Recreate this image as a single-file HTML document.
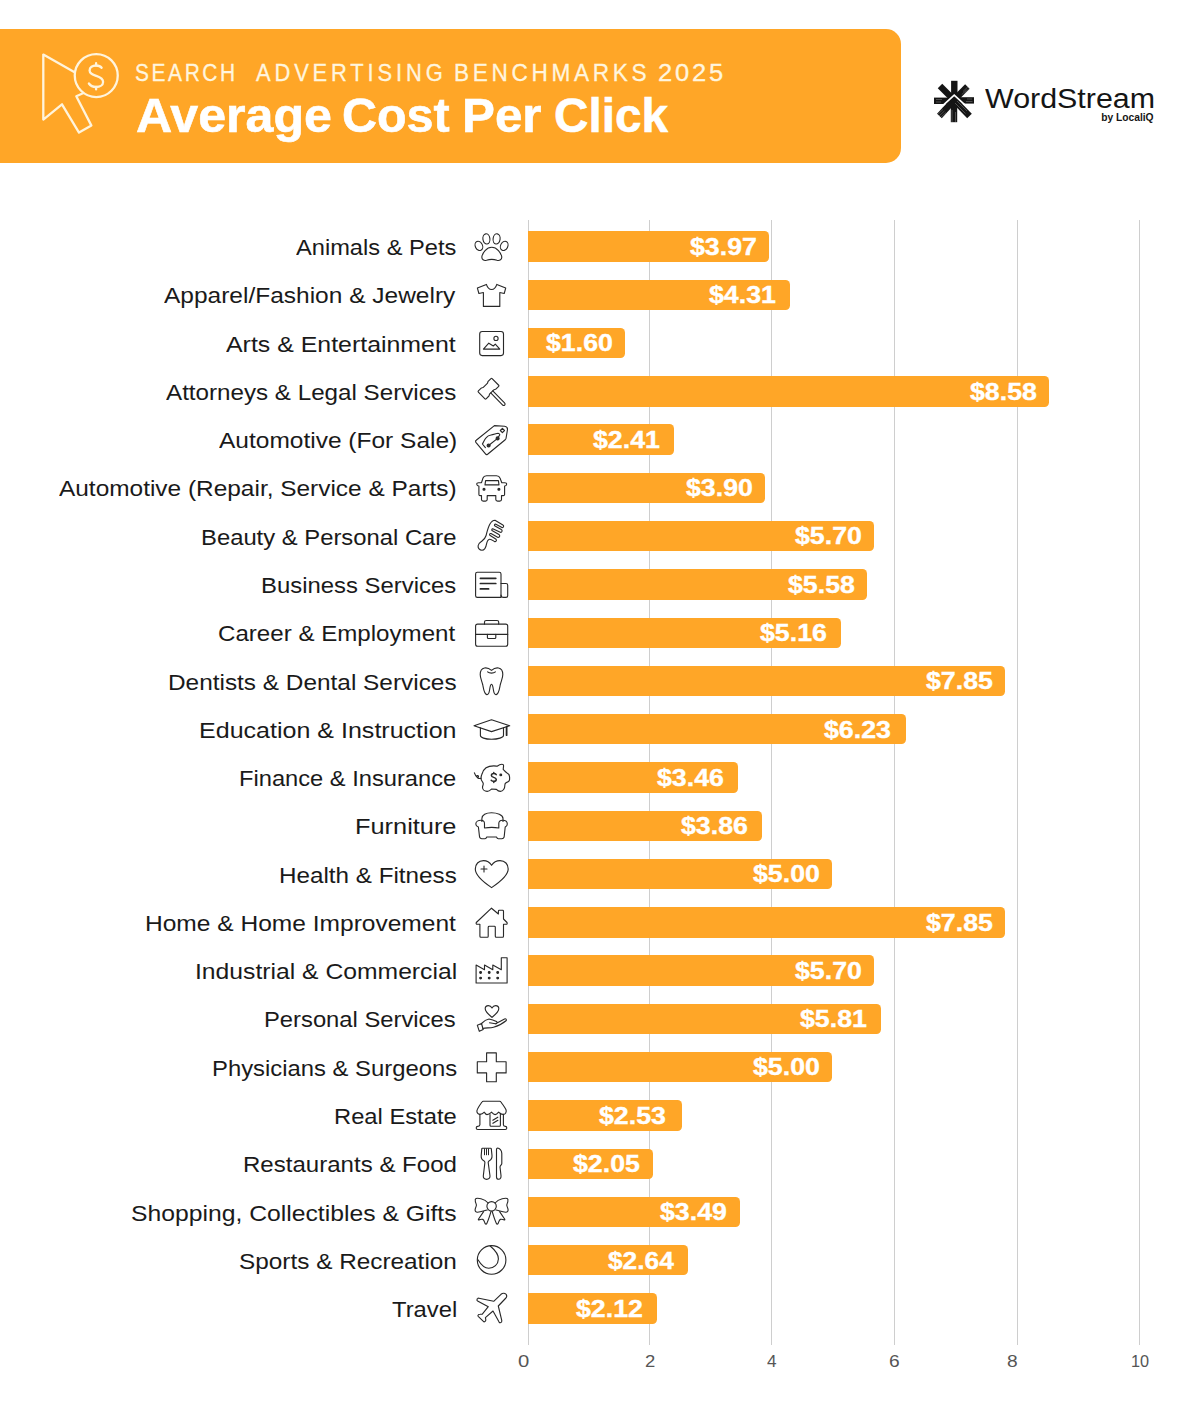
<!DOCTYPE html><html><head><meta charset="utf-8"><style>
html,body{margin:0;padding:0;background:#fff;width:1200px;height:1411px;overflow:hidden;position:relative}
.t{position:absolute;white-space:nowrap;line-height:1;font-family:"Liberation Sans",sans-serif}
.bar{position:absolute;left:528.0px;height:30.4px;background:#FFA627;border-radius:0 4.5px 4.5px 0}
.grid{position:absolute;top:220px;height:1125px;width:1px;background:#cecece}
</style></head><body>

<div style="position:absolute;left:0;top:29px;width:901px;height:134px;background:#FFA627;border-radius:0 15px 15px 0"></div>
<div class="t" style="left:135.14px;top:60.63px;font-size:24.3px;font-weight:400;color:#FFF5DE;letter-spacing:3.037px;transform-origin:0 0;transform:scaleX(0.8600);-webkit-text-stroke:0.35px #FFF5DE">SEARCH</div>
<div class="t" style="left:256.00px;top:60.63px;font-size:24.3px;font-weight:400;color:#FFF5DE;letter-spacing:4.311px;transform-origin:0 0;transform:scaleX(0.9000);-webkit-text-stroke:0.35px #FFF5DE">ADVERTISING</div>
<div class="t" style="left:453.94px;top:60.63px;font-size:24.3px;font-weight:400;color:#FFF5DE;letter-spacing:3.946px;transform-origin:0 0;transform:scaleX(0.9300);-webkit-text-stroke:0.35px #FFF5DE">BENCHMARKS</div>
<div class="t" style="left:657.75px;top:60.63px;font-size:24.3px;font-weight:400;color:#FFF5DE;letter-spacing:2.667px;transform-origin:0 0;transform:scaleX(1.0500);-webkit-text-stroke:0.35px #FFF5DE">2025</div>
<div class="t" style="left:136.06px;top:91.67px;font-size:48px;font-weight:700;color:#ffffff;transform-origin:0 0;transform:scaleX(1.0443);-webkit-text-stroke:0.6px #fff">Average</div>
<div class="t" style="left:342.18px;top:91.67px;font-size:48px;font-weight:700;color:#ffffff;transform-origin:0 0;transform:scaleX(1.0096);-webkit-text-stroke:0.6px #fff">Cost</div>
<div class="t" style="left:462.02px;top:91.67px;font-size:48px;font-weight:700;color:#ffffff;transform-origin:0 0;transform:scaleX(1.0270);-webkit-text-stroke:0.6px #fff">Per</div>
<div class="t" style="left:554.21px;top:91.67px;font-size:48px;font-weight:700;color:#ffffff;transform-origin:0 0;transform:scaleX(0.9929);-webkit-text-stroke:0.6px #fff">Click</div>
<div class="t" style="left:985.20px;top:85.35px;font-size:27.7px;font-weight:400;color:#151515;transform-origin:0 0;transform:scaleX(1.0980);">WordStream</div>
<div class="t" style="left:1101.20px;top:112.92px;font-size:10.25px;font-weight:700;color:#151515;transform-origin:0 0;transform:scaleX(1.0000);">by LocaliQ</div>
<div class="grid" style="left:527.50px"></div>
<div class="grid" style="left:649.00px"></div>
<div class="grid" style="left:770.80px"></div>
<div class="grid" style="left:894.00px"></div>
<div class="grid" style="left:1017.00px"></div>
<div class="grid" style="left:1139.10px"></div>
<div class="t" style="left:518.30px;top:1354.19px;font-size:15.6px;font-weight:400;color:#555555;transform-origin:0 0;transform:scaleX(1.3000);">0</div>
<div class="t" style="left:644.81px;top:1354.19px;font-size:15.6px;font-weight:400;color:#555555;transform-origin:0 0;transform:scaleX(1.1857);">2</div>
<div class="t" style="left:766.90px;top:1354.19px;font-size:15.6px;font-weight:400;color:#555555;transform-origin:0 0;transform:scaleX(1.1000);">4</div>
<div class="t" style="left:889.47px;top:1354.19px;font-size:15.6px;font-weight:400;color:#555555;transform-origin:0 0;transform:scaleX(1.2286);">6</div>
<div class="t" style="left:1007.47px;top:1354.19px;font-size:15.6px;font-weight:400;color:#555555;transform-origin:0 0;transform:scaleX(1.2286);">8</div>
<div class="t" style="left:1131.26px;top:1354.19px;font-size:15.6px;font-weight:400;color:#555555;transform-origin:0 0;transform:scaleX(1.0438);">10</div>
<div class="bar" style="top:231.40px;width:241.10px"></div>
<div class="t" style="left:689.55px;top:234.84px;font-size:24.3px;font-weight:700;color:#ffffff;transform-origin:0 0;transform:scaleX(1.1000);-webkit-text-stroke:0.4px #fff">$3.97</div>
<div class="t" style="left:296.40px;top:236.12px;font-size:22.85px;font-weight:400;color:#1a1a1a;transform-origin:0 0;transform:scaleX(1.0351);">Animals &amp; Pets</div>
<div class="bar" style="top:279.67px;width:261.75px"></div>
<div class="t" style="left:708.85px;top:283.11px;font-size:24.3px;font-weight:700;color:#ffffff;transform-origin:0 0;transform:scaleX(1.1000);-webkit-text-stroke:0.4px #fff">$4.31</div>
<div class="t" style="left:164.20px;top:284.39px;font-size:22.85px;font-weight:400;color:#1a1a1a;transform-origin:0 0;transform:scaleX(1.0721);">Apparel/Fashion &amp; Jewelry</div>
<div class="bar" style="top:327.94px;width:97.17px"></div>
<div class="t" style="left:546.17px;top:331.38px;font-size:24.3px;font-weight:700;color:#ffffff;transform-origin:0 0;transform:scaleX(1.1000);-webkit-text-stroke:0.4px #fff">$1.60</div>
<div class="t" style="left:225.80px;top:332.66px;font-size:22.85px;font-weight:400;color:#1a1a1a;transform-origin:0 0;transform:scaleX(1.0900);">Arts &amp; Entertainment</div>
<div class="bar" style="top:376.21px;width:521.06px"></div>
<div class="t" style="left:969.96px;top:379.65px;font-size:24.3px;font-weight:700;color:#ffffff;transform-origin:0 0;transform:scaleX(1.1000);-webkit-text-stroke:0.4px #fff">$8.58</div>
<div class="t" style="left:165.80px;top:380.93px;font-size:22.85px;font-weight:400;color:#1a1a1a;transform-origin:0 0;transform:scaleX(1.0584);">Attorneys &amp; Legal Services</div>
<div class="bar" style="top:424.48px;width:146.36px"></div>
<div class="t" style="left:593.46px;top:427.92px;font-size:24.3px;font-weight:700;color:#ffffff;transform-origin:0 0;transform:scaleX(1.1000);-webkit-text-stroke:0.4px #fff">$2.41</div>
<div class="t" style="left:218.80px;top:429.20px;font-size:22.85px;font-weight:400;color:#1a1a1a;transform-origin:0 0;transform:scaleX(1.0724);">Automotive (For Sale)</div>
<div class="bar" style="top:472.75px;width:236.85px"></div>
<div class="t" style="left:685.85px;top:476.19px;font-size:24.3px;font-weight:700;color:#ffffff;transform-origin:0 0;transform:scaleX(1.1000);-webkit-text-stroke:0.4px #fff">$3.90</div>
<div class="t" style="left:59.20px;top:477.47px;font-size:22.85px;font-weight:400;color:#1a1a1a;transform-origin:0 0;transform:scaleX(1.0690);">Automotive (Repair, Service &amp; Parts)</div>
<div class="bar" style="top:521.02px;width:346.16px"></div>
<div class="t" style="left:795.16px;top:524.46px;font-size:24.3px;font-weight:700;color:#ffffff;transform-origin:0 0;transform:scaleX(1.1000);-webkit-text-stroke:0.4px #fff">$5.70</div>
<div class="t" style="left:201.41px;top:525.74px;font-size:22.85px;font-weight:400;color:#1a1a1a;transform-origin:0 0;transform:scaleX(1.0426);">Beauty &amp; Personal Care</div>
<div class="bar" style="top:569.29px;width:338.87px"></div>
<div class="t" style="left:787.77px;top:572.73px;font-size:24.3px;font-weight:700;color:#ffffff;transform-origin:0 0;transform:scaleX(1.1000);-webkit-text-stroke:0.4px #fff">$5.58</div>
<div class="t" style="left:261.31px;top:574.01px;font-size:22.85px;font-weight:400;color:#1a1a1a;transform-origin:0 0;transform:scaleX(1.0457);">Business Services</div>
<div class="bar" style="top:617.56px;width:313.37px"></div>
<div class="t" style="left:760.27px;top:621.00px;font-size:24.3px;font-weight:700;color:#ffffff;transform-origin:0 0;transform:scaleX(1.1000);-webkit-text-stroke:0.4px #fff">$5.16</div>
<div class="t" style="left:218.34px;top:622.28px;font-size:22.85px;font-weight:400;color:#1a1a1a;transform-origin:0 0;transform:scaleX(1.0554);">Career &amp; Employment</div>
<div class="bar" style="top:665.83px;width:476.73px"></div>
<div class="t" style="left:925.63px;top:669.27px;font-size:24.3px;font-weight:700;color:#ffffff;transform-origin:0 0;transform:scaleX(1.1000);-webkit-text-stroke:0.4px #fff">$7.85</div>
<div class="t" style="left:167.67px;top:670.55px;font-size:22.85px;font-weight:400;color:#1a1a1a;transform-origin:0 0;transform:scaleX(1.0672);">Dentists &amp; Dental Services</div>
<div class="bar" style="top:714.10px;width:378.35px"></div>
<div class="t" style="left:823.95px;top:717.54px;font-size:24.3px;font-weight:700;color:#ffffff;transform-origin:0 0;transform:scaleX(1.1000);-webkit-text-stroke:0.4px #fff">$6.23</div>
<div class="t" style="left:199.31px;top:718.82px;font-size:22.85px;font-weight:400;color:#1a1a1a;transform-origin:0 0;transform:scaleX(1.0961);">Education &amp; Instruction</div>
<div class="bar" style="top:762.37px;width:210.13px"></div>
<div class="t" style="left:657.03px;top:765.81px;font-size:24.3px;font-weight:700;color:#ffffff;transform-origin:0 0;transform:scaleX(1.1000);-webkit-text-stroke:0.4px #fff">$3.46</div>
<div class="t" style="left:239.13px;top:767.09px;font-size:22.85px;font-weight:400;color:#1a1a1a;transform-origin:0 0;transform:scaleX(1.0367);">Finance &amp; Insurance</div>
<div class="bar" style="top:810.64px;width:234.42px"></div>
<div class="t" style="left:681.32px;top:814.08px;font-size:24.3px;font-weight:700;color:#ffffff;transform-origin:0 0;transform:scaleX(1.1000);-webkit-text-stroke:0.4px #fff">$3.86</div>
<div class="t" style="left:354.78px;top:815.36px;font-size:22.85px;font-weight:400;color:#1a1a1a;transform-origin:0 0;transform:scaleX(1.1101);">Furniture</div>
<div class="bar" style="top:858.91px;width:303.65px"></div>
<div class="t" style="left:752.65px;top:862.35px;font-size:24.3px;font-weight:700;color:#ffffff;transform-origin:0 0;transform:scaleX(1.1000);-webkit-text-stroke:0.4px #fff">$5.00</div>
<div class="t" style="left:278.68px;top:863.63px;font-size:22.85px;font-weight:400;color:#1a1a1a;transform-origin:0 0;transform:scaleX(1.0606);">Health &amp; Fitness</div>
<div class="bar" style="top:907.18px;width:476.73px"></div>
<div class="t" style="left:925.63px;top:910.62px;font-size:24.3px;font-weight:700;color:#ffffff;transform-origin:0 0;transform:scaleX(1.1000);-webkit-text-stroke:0.4px #fff">$7.85</div>
<div class="t" style="left:145.35px;top:911.90px;font-size:22.85px;font-weight:400;color:#1a1a1a;transform-origin:0 0;transform:scaleX(1.0742);">Home &amp; Home Improvement</div>
<div class="bar" style="top:955.45px;width:346.16px"></div>
<div class="t" style="left:795.16px;top:958.89px;font-size:24.3px;font-weight:700;color:#ffffff;transform-origin:0 0;transform:scaleX(1.1000);-webkit-text-stroke:0.4px #fff">$5.70</div>
<div class="t" style="left:195.24px;top:960.17px;font-size:22.85px;font-weight:400;color:#1a1a1a;transform-origin:0 0;transform:scaleX(1.0812);">Industrial &amp; Commercial</div>
<div class="bar" style="top:1003.72px;width:352.84px"></div>
<div class="t" style="left:799.94px;top:1007.16px;font-size:24.3px;font-weight:700;color:#ffffff;transform-origin:0 0;transform:scaleX(1.1000);-webkit-text-stroke:0.4px #fff">$5.81</div>
<div class="t" style="left:264.32px;top:1008.44px;font-size:22.85px;font-weight:400;color:#1a1a1a;transform-origin:0 0;transform:scaleX(1.0407);">Personal Services</div>
<div class="bar" style="top:1051.99px;width:303.65px"></div>
<div class="t" style="left:752.65px;top:1055.43px;font-size:24.3px;font-weight:700;color:#ffffff;transform-origin:0 0;transform:scaleX(1.1000);-webkit-text-stroke:0.4px #fff">$5.00</div>
<div class="t" style="left:211.61px;top:1056.71px;font-size:22.85px;font-weight:400;color:#1a1a1a;transform-origin:0 0;transform:scaleX(1.0435);">Physicians &amp; Surgeons</div>
<div class="bar" style="top:1100.26px;width:153.65px"></div>
<div class="t" style="left:599.25px;top:1103.70px;font-size:24.3px;font-weight:700;color:#ffffff;transform-origin:0 0;transform:scaleX(1.1000);-webkit-text-stroke:0.4px #fff">$2.53</div>
<div class="t" style="left:334.22px;top:1104.98px;font-size:22.85px;font-weight:400;color:#1a1a1a;transform-origin:0 0;transform:scaleX(1.0391);">Real Estate</div>
<div class="bar" style="top:1148.53px;width:124.50px"></div>
<div class="t" style="left:573.40px;top:1151.97px;font-size:24.3px;font-weight:700;color:#ffffff;transform-origin:0 0;transform:scaleX(1.1000);-webkit-text-stroke:0.4px #fff">$2.05</div>
<div class="t" style="left:243.09px;top:1153.25px;font-size:22.85px;font-weight:400;color:#1a1a1a;transform-origin:0 0;transform:scaleX(1.0530);">Restaurants &amp; Food</div>
<div class="bar" style="top:1196.80px;width:211.95px"></div>
<div class="t" style="left:659.75px;top:1200.24px;font-size:24.3px;font-weight:700;color:#ffffff;transform-origin:0 0;transform:scaleX(1.1000);-webkit-text-stroke:0.4px #fff">$3.49</div>
<div class="t" style="left:131.22px;top:1201.52px;font-size:22.85px;font-weight:400;color:#1a1a1a;transform-origin:0 0;transform:scaleX(1.0819);">Shopping, Collectibles &amp; Gifts</div>
<div class="bar" style="top:1245.07px;width:160.33px"></div>
<div class="t" style="left:608.03px;top:1248.51px;font-size:24.3px;font-weight:700;color:#ffffff;transform-origin:0 0;transform:scaleX(1.0820);-webkit-text-stroke:0.4px #fff">$2.64</div>
<div class="t" style="left:239.43px;top:1249.79px;font-size:22.85px;font-weight:400;color:#1a1a1a;transform-origin:0 0;transform:scaleX(1.0658);">Sports &amp; Recreation</div>
<div class="bar" style="top:1293.34px;width:128.75px"></div>
<div class="t" style="left:575.55px;top:1296.78px;font-size:24.3px;font-weight:700;color:#ffffff;transform-origin:0 0;transform:scaleX(1.1000);-webkit-text-stroke:0.4px #fff">$2.12</div>
<div class="t" style="left:392.30px;top:1298.06px;font-size:22.85px;font-weight:400;color:#1a1a1a;transform-origin:0 0;transform:scaleX(1.0410);">Travel</div>

<svg style="position:absolute;left:0;top:0" width="1200" height="200" viewBox="0 0 1200 200">
 <g fill="none" stroke="#FFF4DC" stroke-width="2.3" stroke-linejoin="round" stroke-linecap="round">
  <path d="M74.6,72.3 L43.3,54.6 L43.3,119.6 L62,104.3 L79,132.6 L91.4,125.6 L76.3,96.3 L83,93.3"/>
  <circle cx="96.25" cy="75.6" r="21.5"/>
  <path d="M101.6,67.8 C100.5,66.3 98.5,65.5 96.1,65.5 C92.5,65.5 89.6,67.3 89.6,70.4 C89.6,73.6 92.6,74.6 96.3,75.9 C100.3,77.3 103.1,78.9 103.1,82 C103.1,85 100,87 96.1,87 C92.8,87 90.2,85.5 88.9,83.5"/>
  <path d="M96.1,63.2 V65.5 M96.1,87 V89.4"/>
 </g>
</svg>
<svg style="position:absolute;left:925px;top:70px" width="60" height="60" viewBox="925 70 60 60">
 <g stroke="#151515" stroke-width="6.4" stroke-linecap="butt" fill="none">
  <path d="M954.3,80.8 V100"/>
  <path d="M967.4,86.6 L954,100"/>
  <path d="M974,100.4 H954"/>
  <path d="M969.5,116 L954,100"/>
  <path d="M954,122.2 V100"/>
  <path d="M939.4,116 L954,100"/>
  <path d="M934,100.8 H954"/>
  <path d="M940,86 L954,100"/>
 </g>
 <path d="M942.5,105.8 L954.2,95.2 L966,105.8" stroke="#fff" stroke-width="1.7" fill="none"/>
 <g stroke="#fff" stroke-width="0.45" opacity="0.55" fill="none">
  <path d="M963,91.5 L969,85.8 M964.5,93 L970.5,87.2 M961.8,94.5 L966.5,90"/>
  <path d="M944.5,111 L938.5,116.5 M946,112.5 L940,118 M943,109.5 L937.3,114.8"/>
  <path d="M952,110 L952,122 M955.5,112 L955.5,122"/>
  <path d="M936,99.5 H942 M936,102 H941"/>
  <path d="M966,101.5 H972.5 M967,99 H972"/>
  <path d="M957,101 L967,111 M955,103 L965.5,113.5"/>
 </g>
</svg>


<svg style="position:absolute;left:0;top:0" width="1200" height="1411" viewBox="0 0 1200 1411">
<g fill="none" stroke="#282828" stroke-width="1.12" stroke-linejoin="round" stroke-linecap="round">
 <!-- 0 paw -->
 <ellipse cx="478.9" cy="245.9" rx="3.6" ry="4.8" transform="rotate(-25 478.9 245.9)"/>
 <ellipse cx="486.4" cy="238.9" rx="3.5" ry="5.1" transform="rotate(-8 486.4 238.9)"/>
 <ellipse cx="496.6" cy="238.9" rx="3.5" ry="5.1" transform="rotate(8 496.6 238.9)"/>
 <ellipse cx="504.2" cy="245.9" rx="3.6" ry="4.8" transform="rotate(25 504.2 245.9)"/>
 <path d="M491.8,247.3 C486.5,247.3 482.5,253 481.9,256.5 C481.5,259.5 484,261 486.5,260.3 C489.5,259.3 494,259.3 497,260.3 C499.5,261 502.2,259.5 501.7,256.5 C501,253 497,247.3 491.8,247.3 Z"/>
 <!-- 1 shirt -->
 <path d="M486.4,284.4 C487.5,288 489.5,289.5 491.6,289.5 C493.7,289.5 495.7,288 496.8,284.4 L505.7,288.1 L504.2,293.5 L499.8,292.5 L499.8,306.4 L483.4,306.4 L483.4,292.5 L478.9,293.5 L477.4,288.1 Z"/>
 <!-- 2 picture -->
 <rect x="479.7" y="331.5" width="23.8" height="24.1" rx="2.5"/>
 <circle cx="496" cy="338.4" r="2.1"/>
 <path d="M483.4,349.1 L488.8,343.2 L493.3,346 L495.3,344.2 L499.8,349.1 Z"/>
 <!-- 3 gavel -->
 <g transform="translate(495.4,381.9) rotate(135.4)">
  <path d="M0.8,-5.5 H4.8 C5.6,-5.5 5.9,-4.6 6.8,-4.6 H12.5 C13.4,-4.6 13.7,-5.5 14.5,-5.5 H18.5 C19,-5.5 19.3,-5.2 19.3,-4.7 V4.7 C19.3,5.2 19,5.5 18.5,5.5 H14.5 C13.7,5.5 13.4,4.6 12.5,4.6 H6.8 C5.9,4.6 5.6,5.5 4.8,5.5 H0.8 C0.3,5.5 0,5.2 0,4.7 V-4.7 C0,-5.2 0.3,-5.5 0.8,-5.5 Z"/>
  <path d="M8.2,-4.6 V-21.3 C8.2,-22.3 8.8,-23 9.65,-23 C10.5,-23 11.1,-22.3 11.1,-21.3 V-4.6"/>
 </g>
 <!-- 4 tag -->
 <path d="M494.4,425.6 L504.6,426.2 C506.3,426.4 507.6,427.7 507.5,429.5 L506,438.5 C505.9,439 505.6,439.4 505.2,439.7 L487.6,454.2 C486.9,454.7 486,454.6 485.5,453.9 L475.9,442.3 C475.4,441.6 475.5,440.7 476.2,440.2 Z"/>
 <path d="M502.4,428.4 L504.5,430.5 L502.4,432.6 L500.3,430.5 Z"/>
 <path d="M485.4,447.6 L482.4,444 C483.3,442.5 484.5,439.5 486,437.8 C487.5,436 489,435.2 491,435 C493.5,434.8 496,433.5 498.1,433.3 C498.8,433.3 499.5,434 499.8,434.8 L497.6,438.4 L488.6,445.5"/>
 <circle cx="497.6" cy="438.4" r="1.5" fill="#303030"/>
 <circle cx="488.6" cy="445.5" r="1.5" fill="#303030"/>
 <!-- 5 car front -->
 <path d="M481.5,482.7 L483,478 C483.5,476.6 484.8,475.8 486.5,475.8 H496.5 C498.2,475.8 499.5,476.6 500,478 L501.8,482.7 H504.8 C506,482.7 506.8,483.5 506.6,484.5 C506.4,485.5 505.6,486 504.6,486 V494.5 C504.6,495.2 504,495.6 503.3,495.6 H501.5 V499.5 C501.5,500.5 500.7,501.1 499.8,501.1 H497.6 C496.7,501.1 495.8,500.5 495.8,499.5 V495.6 H487.2 V499.5 C487.2,500.5 486.4,501.1 485.5,501.1 H483.2 C482.3,501.1 481.5,500.5 481.5,499.5 V495.6 H480 C479.3,495.6 478.9,495.2 478.9,494.5 V486 C477.9,486 477,485.5 476.8,484.5 C476.6,483.5 477.4,482.7 478.6,482.7 Z"/>
 <path d="M485.6,480.6 H498.4 L499,484.9 H485 Z"/>
 <circle cx="484" cy="489.2" r="1" fill="#2a2a2a"/>
 <circle cx="498.9" cy="489.2" r="1" fill="#2a2a2a"/>
 <!-- 6 comb -->
 <path d="M495.0,520.3 L502.9,524.9 A1.45,1.45 0 0 1 502.0,527.6 L495.9,524.2 A0.95,0.95 0 0 0 495.0,526.0 L501.3,529.6 A1.45,1.45 0 0 1 500.3,532.3 L493.3,528.9 A0.95,0.95 0 0 0 492.4,530.8 L498.9,534.6 A1.45,1.45 0 0 1 497.6,537.2 L491.0,533.6 A0.95,0.95 0 0 0 490.2,535.5 L496.1,539.3 A1.45,1.45 0 0 1 494.6,541.6 C493,540.6 491.2,539 489.6,539.2 C487.6,539.5 486.9,542 486.5,544.2 C485.9,547.5 484.5,550.3 482,550.3 C479.5,550.3 477.8,548.3 478.1,545.8 C478.4,543.5 480,542.5 481.5,541.5 C483.5,540 485.3,538.5 486.1,535.5 C487,532 488,527.5 489.8,524.3 C491.2,521.8 493,520.3 495.0,520.3 Z"/>
 <!-- 7 newspaper -->
 <path d="M501,597.4 H477.3 C476.3,597.4 475.6,596.7 475.6,595.7 V573.9 C475.6,572.9 476.3,572.2 477.3,572.2 H499.3 C500.3,572.2 501,572.9 501,573.9 V597.4 Z"/>
 <path d="M501,583.5 H506 C507,583.5 507.7,584.2 507.7,585.2 V595.7 C507.7,596.7 507,597.4 506,597.4 H503.5 C502.2,597.4 501,596.5 501,595"/>
 <path d="M480.4,578.3 H495.8 M480.4,583.5 H495.8 M480.4,588.9 H488.6" stroke-width="1.7"/>
 <!-- 8 briefcase -->
 <rect x="475.6" y="624.1" width="32.1" height="22.1" rx="2"/>
 <path d="M484.5,624.1 V622 C484.5,621 485.2,620.5 486.2,620.5 H497 C498,620.5 498.7,621 498.7,622 V624.1"/>
 <path d="M475.6,634.4 H507.7"/>
 <path d="M487.4,634.4 V637.5 C487.4,638.1 487.8,638.5 488.4,638.5 H494.8 C495.4,638.5 495.8,638.1 495.8,637.5 V634.4"/>
 <!-- 9 tooth -->
 <path d="M491.5,670.4 C489,668.2 486.5,667.6 484.5,668 C481.5,668.6 480.2,671.5 480.2,674.5 C480.2,678 481.8,681 482.8,685 C483.5,688.5 484,694 486.8,694.6 C489.3,695 489.5,690 490,687.5 C490.4,685.5 490.8,684.3 491.5,684.3 C492.2,684.3 492.6,685.5 493,687.5 C493.5,690 493.7,695 496.2,694.6 C499,694 499.5,688.5 500.2,685 C501.2,681 502.8,678 502.8,674.5 C502.8,671.5 501.5,668.6 498.5,668 C496.5,667.6 494,668.2 491.5,670.4 Z"/>
 <path d="M487.6,671.8 C489.5,673.5 493.5,673.5 495.4,671.8"/>
 <!-- 10 grad cap -->
 <path d="M474,725.7 L491.5,719.7 L509.7,725.7 L491.5,731.6 Z"/>
 <path d="M480.4,727.8 V735.5 C480.4,737.5 485,739.3 491.5,739.3 C498,739.3 503.5,737.5 503.5,735.5 V727.8"/>
 <path d="M506.6,726.7 V735.2" stroke-width="1.8"/>
 <!-- 11 piggy -->
 <path d="M482.1,773.8 C483.5,768.5 488,765.9 493.8,765.9 C495,765.9 496,766.1 497.1,766.25 C498.5,765.2 500.5,764.2 501.9,764.2 C503,764.2 503.7,765 503.55,766.1 L503.2,769.4 C504.3,770.5 505.5,771.8 506.7,772.7 C508.5,773.6 509.6,775 509.6,777 V779.5 C509.6,781 508.2,782 506.3,782.6 C505.3,783.2 504.8,784 504.8,785.2 C505,788.5 503,791.4 500.4,791.4 C498.6,791.4 497.3,790.4 496.4,789.4 C494.8,789 493,789 491.6,789 C490.5,790 489,791.4 487.2,791.4 C484.5,791.4 482.5,789.5 482.5,787.3 C482.5,785.8 483.5,784.8 483.2,783.3 C482.8,781.8 481,780.5 481,778.5 C481,776.5 481.5,775 482.1,773.8 Z"/>
 <path d="M481,778.4 C480,778.6 478.8,778.7 477.8,778 C476.5,777 475.2,775.5 474.4,772.9 M476.3,776.3 C477.1,775.3 478.3,775.6 478.5,776.4 C478.6,777.1 477.8,777.6 477,777.3"/>
 <path d="M496.2,774.6 C495.6,773.9 494.8,773.6 493.8,773.6 C492.4,773.6 491.4,774.3 491.4,775.4 C491.4,776.6 492.6,777 493.8,777.4 C495.1,777.8 496.3,778.3 496.3,779.5 C496.3,780.6 495.2,781.3 493.8,781.3 C492.7,781.3 491.8,780.9 491.2,780.2 M493.8,772.4 V773.6 M493.8,781.3 V782.5" stroke-width="1.5"/>
 <circle cx="500.8" cy="774.9" r="0.9" fill="#303030"/>
</g>
<g fill="none" stroke="#282828" stroke-width="1.12" stroke-linejoin="round" stroke-linecap="round">
 <!-- 12 armchair -->
 <path d="M481.9,821.5 V818.5 C481.9,815 486,812.8 491.5,812.8 C497,812.8 503,815 503,818.5 V821.5"/>
 <path d="M484.5,828 V823.5 C484.5,821.5 483,820.2 481,820.2 C478.5,820.2 475.8,821.5 475.8,824 C475.8,825.8 477,826.5 478.4,827 L479.5,836.5 C479.7,838 480.5,838.8 481.9,838.8 H485 C486,838.8 486.5,837.8 486.8,837 H496.5 C496.8,837.8 497.3,838.8 498.3,838.8 H501.8 C503.2,838.8 504,838 504.2,836.5 L505.2,827 C506.5,826.5 507.3,825.8 507.3,824 C507.3,821.5 505,820.2 502.5,820.2 C500.5,820.2 498.8,821.5 498.8,823.5 V828 C495,827.3 488.5,827.3 484.5,828 Z"/>
 <!-- 13 heart -->
 <path d="M491.6,865.3 C489.5,862 486.5,860.6 483.5,860.6 C478.5,860.6 475.3,864.2 475.3,869 C475.3,875.5 482.5,881.5 491.6,887.6 C500.7,881.5 508.2,875.5 508.2,869 C508.2,864.2 505,860.6 500,860.6 C496.8,860.6 493.7,862 491.6,865.3 Z"/>
 <path d="M484,866 V872 M481,869 H487" stroke-width="1.1"/>
 <!-- 14 house -->
 <path d="M491.5,908.2 L476.3,922.5 C475.8,923.3 476.3,924.2 477.2,924.2 H479.9 V936.2 C479.9,936.8 480.3,937.2 480.9,937.2 H487.5 C488,937.2 488.2,936.8 488.2,936.2 V927.2 C488.2,926.7 488.6,926.3 489.2,926.3 H494.4 C494.9,926.3 495.3,926.7 495.3,927.2 V936.2 C495.3,936.8 495.6,937.2 496.2,937.2 H502.6 C503.2,937.2 503.5,936.8 503.5,936.2 V924.2 H506.2 C507.1,924.2 507.5,923.3 507,922.5 L503.5,919 V911.2 C503.5,910.7 503.1,910.3 502.6,910.3 H499.3 C498.8,910.3 498.4,910.7 498.4,911.2 V914 L491.5,908.2 Z"/>
 <!-- 15 factory -->
 <path d="M476.1,983 V965 L484.5,969.7 V965 L492.8,969.7 V965 L501.3,969.7 V957.8 H507.1 V983 Z"/>
 <circle cx="480.6" cy="972.5" r="0.9" fill="#2a2a2a"/><circle cx="489.2" cy="972.5" r="0.9" fill="#2a2a2a"/><circle cx="497.7" cy="972.5" r="0.9" fill="#2a2a2a"/>
 <circle cx="480.6" cy="978.1" r="0.9" fill="#2a2a2a"/><circle cx="489.2" cy="978.1" r="0.9" fill="#2a2a2a"/><circle cx="497.7" cy="978.1" r="0.9" fill="#2a2a2a"/>
 <!-- 16 hand heart -->
 <path d="M492,1017.3 C488.5,1014.5 485.2,1012 485.2,1008.8 C485.2,1006.8 486.7,1005.6 488.4,1005.6 C489.9,1005.6 491.2,1006.5 492,1008 C492.8,1006.5 494,1005.6 495.6,1005.6 C497.3,1005.6 498.8,1006.8 498.8,1008.8 C498.8,1012 495.5,1014.5 492,1017.3 Z"/>
 <path d="M477.3,1025.2 L481.5,1023.5 L483.2,1029.5 L479.3,1031.3 Z"/>
 <path d="M481.5,1023.5 C483.5,1021.5 486,1019.5 489,1019 C492,1019.5 494.5,1020.5 496.5,1021.5 C497.8,1022.3 497,1024 495.5,1023.8 L489.5,1022.8 M495.5,1023.8 C498,1022.5 501.5,1020.5 504.5,1019 C506,1018.3 507,1019.8 506,1020.8 C502.5,1023.8 498.5,1026 493.5,1027.2 C490,1028 486,1027.8 482.8,1028.5"/>
 <!-- 17 cross -->
 <path d="M486.6,1052.9 H496.3 V1061.7 H506.1 V1072.9 H496.3 V1081.7 H486.6 V1072.9 H477.3 V1061.7 H486.6 Z"/>
 <!-- 18 shop -->
 <path d="M483.3,1101.2 H499.6 C500.2,1101.2 500.7,1101.5 501,1102 C502.8,1104.8 505,1107.5 506,1109.8 C506.8,1112 505.3,1114.4 503.4,1114.4 C501.2,1114.6 500,1113 498.6,1112.2 C497.5,1113.5 496.5,1114.6 495.1,1114.6 C493.6,1114.6 492.5,1113.3 491.45,1112.2 C490.3,1113.3 489,1114.6 487,1114.6 C485.7,1114.6 485,1113.2 484.3,1112.2 C483.3,1113.3 481.8,1114.4 479.9,1114.4 C477.8,1114.2 476.7,1112.5 476.9,1110.8 C477.5,1108 480.3,1104.5 482,1102 C482.3,1101.5 482.8,1101.2 483.3,1101.2 Z"/>
 <path d="M479.9,1114.4 V1124.8 C479.9,1126 479,1126.4 477.8,1126.4 C476.9,1126.4 476.2,1127.1 476.2,1128 C476.2,1128.9 476.9,1129.5 477.8,1129.5 H505.2 C506.1,1129.5 506.8,1128.8 506.8,1128 C506.8,1127.1 506.1,1126.4 505.2,1126.4 C504,1126.4 503.4,1126 503.4,1124.8 V1114.4"/>
 <path d="M490,1114.6 V1125.2 C490,1125.8 490.4,1126.2 491,1126.2 H499.4 C500,1126.2 500.4,1125.8 500.4,1125.2 V1114.3"/>
 <path d="M492.8,1120.2 L497.8,1117.2 M492.9,1123.3 L497.9,1120.3" stroke-width="1.15"/>
 <!-- 19 fork knife -->
 <path d="M482.3,1148.2 H490.7 C491,1148.2 491.2,1148.4 491.3,1148.7 L492,1155.5 C492.2,1158 490.8,1160 489.3,1160.8 C488.5,1161.3 488.2,1161.8 488.2,1162.5 L490,1176 C490.2,1178 488.7,1179.4 486.6,1179.4 C484.5,1179.4 483.1,1178 483.3,1176 L484.9,1162.5 C484.9,1161.8 484.6,1161.3 483.8,1160.8 C482.3,1160 481,1158 481.2,1155.5 L481.8,1148.7 C481.9,1148.4 482,1148.2 482.3,1148.2 Z"/>
 <path d="M484.5,1148.8 V1154.8 M486.5,1148.8 V1154.8 M488.5,1148.8 V1154.8" stroke-width="1.0"/>
 <path d="M496.5,1149.5 C496.5,1148.6 497,1148 497.6,1148 C499.5,1148.2 501.8,1150.5 501.8,1153.5 V1163.5 C501.8,1164.8 500.2,1165.5 500,1167 L501,1175.5 C501.3,1177.8 500.2,1179.3 498.7,1179.3 C497.4,1179.3 496.5,1178.2 496.5,1177 Z"/>
 <!-- 20 bow -->
 <circle cx="491.6" cy="1206.3" r="4.7"/>
 <path d="M488.1,1203 C486.5,1201 484,1199.5 481,1198.8 C479,1198.3 477,1198.1 476,1198.6 C475.2,1199 475.1,1200.5 475.4,1201.8 C475.7,1203 476.5,1204.3 476.4,1205.3 C476.3,1206.5 475.3,1208 475.1,1209.8 C475,1211.3 476,1212.3 477.5,1212.2 C480.5,1212 484.5,1210.6 487.2,1210"/>
 <path d="M495.1,1203 C496.7,1201 499.2,1199.5 502.2,1198.8 C504.2,1198.3 506.2,1198.1 507.2,1198.6 C508,1199 508.1,1200.5 507.8,1201.8 C507.5,1203 506.7,1204.3 506.8,1205.3 C506.9,1206.5 507.9,1208 508.1,1209.8 C508.2,1211.3 507.2,1212.3 505.7,1212.2 C502.7,1212 498.7,1210.6 496,1210"/>
 <path d="M483.6,1211.6 L478.4,1219.3 C478.2,1219.7 478.5,1220 478.9,1219.9 C480,1219.5 481.5,1219 482.8,1219.4 C484,1219.8 484.3,1221.5 485,1223.3 C485.3,1224.2 486.4,1224.4 486.8,1223.5 C488.5,1220 490,1215 491.1,1211.2"/>
 <path d="M499.6,1211.6 L504.8,1219.3 C505,1219.7 504.7,1220 504.3,1219.9 C503.2,1219.5 501.7,1219 500.4,1219.4 C499.2,1219.8 498.9,1221.5 498.2,1223.3 C497.9,1224.2 496.8,1224.4 496.4,1223.5 C494.7,1220 493.2,1215 492.1,1211.2"/>
 <!-- 21 ball -->
 <circle cx="491.6" cy="1259.9" r="14.3"/>
 <path d="M490.2,1246 C495.5,1250.5 498.6,1254.5 498.4,1259 C498.2,1264.5 494,1268.3 488.8,1268.3 C484.3,1268.3 481,1264.8 478,1259.8"/>
 <!-- 22 plane -->
 <path d="M501,1294.3 C502,1293.5 503,1293.2 504,1293.3 C505.5,1293.5 506.8,1294.8 506.7,1296.3 C506.6,1297 506.3,1297.5 505.9,1298 L498.3,1306 L501.8,1320.6 C502,1321.6 501.2,1322.5 500.4,1322.7 C499.9,1322.8 499.4,1322.6 499.1,1322.1 L493,1311 L485.4,1317.7 L485.8,1319.6 C485.9,1320.3 485.5,1321.2 484.9,1321.6 C484.4,1321.9 483.8,1321.9 483.4,1321.4 L478.2,1316.3 C477.8,1315.8 478,1315 478.5,1314.6 C478.9,1314.3 479.5,1314.2 480,1314.2 L482.3,1314.1 L488.3,1306.7 L477.6,1301 C477,1300.7 476.8,1299.9 477.1,1299.2 L477.6,1298.6 C477.9,1298.2 478.4,1298.1 478.9,1298.2 L493.7,1301.3 Z"/>
</g>
</svg>

</body></html>
